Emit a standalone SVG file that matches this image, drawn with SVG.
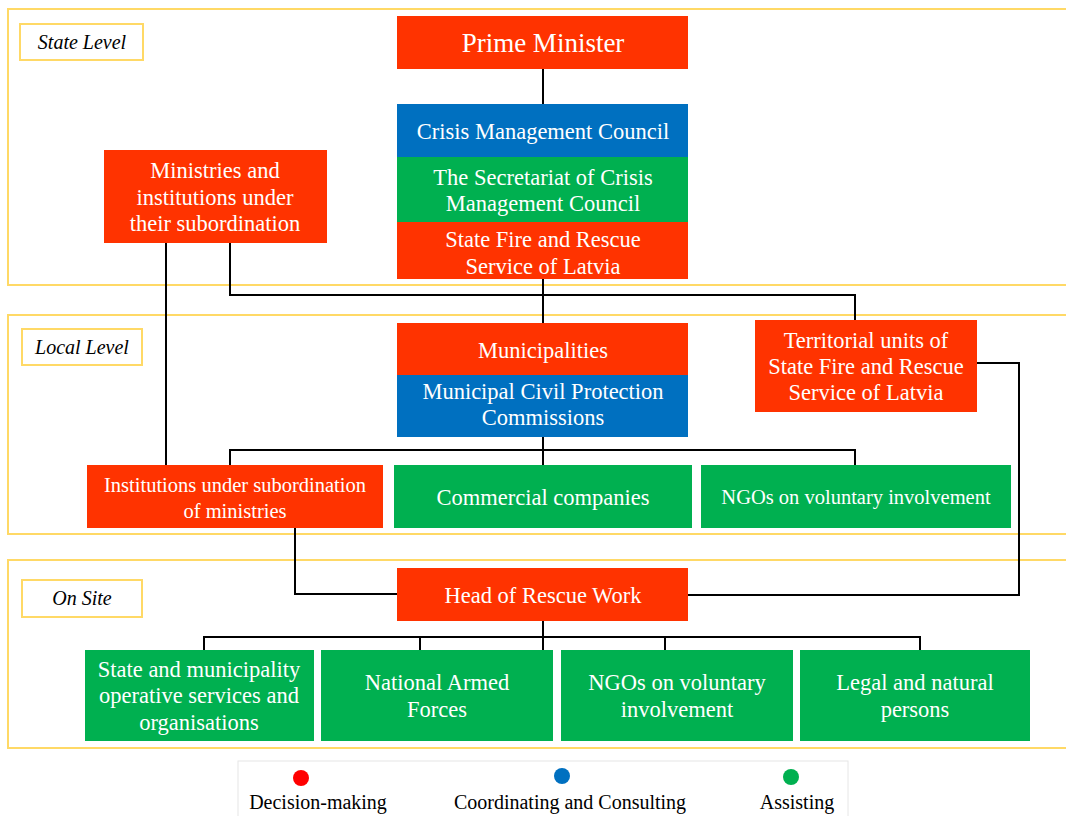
<svg xmlns="http://www.w3.org/2000/svg" width="1066" height="816" viewBox="0 0 1066 816">
<style>
.frame{fill:none;stroke:#FFD966;stroke-width:2}
.lbl{fill:#fff;stroke:#FFD966;stroke-width:2}
.lt{font-style:italic;font-size:20px;fill:#000;text-anchor:middle}
.r{fill:#FF3300}
.b{fill:#0070C0}
.g{fill:#00B050}
.t{font-size:22.5px;fill:#fff;text-anchor:middle}
.s{font-size:20.5px}
.pm{font-size:27px}
.c{fill:none;stroke:#000;stroke-width:2}
.leg{font-size:20px;fill:#000;text-anchor:middle}
</style>
<rect width="1066" height="816" fill="#fff"/>
<g font-family="Liberation Serif, Times New Roman, serif">
<g id="levels">
<rect class="frame" x="8" y="9" width="1070" height="276"/>
<rect class="lbl" x="20" y="24" width="123" height="36"/>
<text class="lt" x="82" y="49">State Level</text>
<rect class="frame" x="8" y="315" width="1070" height="219"/>
<rect class="lbl" x="22" y="329" width="120" height="36"/>
<text class="lt" x="82" y="354">Local Level</text>
<rect class="frame" x="8" y="560" width="1070" height="188"/>
<rect class="lbl" x="22" y="580" width="120" height="37"/>
<text class="lt" x="82" y="605">On Site</text>
</g>
<g id="connectors">
<path class="c" d="M543 69V104"/>
<path class="c" d="M543 279V323"/>
<path class="c" d="M166 243V465"/>
<path class="c" d="M230 243V295H855V321"/>
<path class="c" d="M977 363H1019V595H688"/>
<path class="c" d="M543 437V465"/>
<path class="c" d="M230 465V450H855V465"/>
<path class="c" d="M295 528V594H397"/>
<path class="c" d="M543 621V650"/>
<path class="c" d="M204 650V637H920V650"/>
<path class="c" d="M420 637V650"/>
<path class="c" d="M665 637V650"/>
</g>
<g id="prime-minister">
<rect class="r" x="397" y="16" width="291" height="53"/>
<text class="t pm" x="543" y="52">Prime Minister</text>
</g>
<g id="crisis-management-council">
<rect class="b" x="397" y="104" width="291" height="53"/>
<text class="t" x="543" y="139">Crisis Management Council</text>
</g>
<g id="secretariat">
<rect class="g" x="397" y="157" width="291" height="65"/>
<text class="t" x="543" y="185">The Secretariat of Crisis</text>
<text class="t" x="543" y="211">Management Council</text>
</g>
<g id="state-fire-rescue">
<rect class="r" x="397" y="222" width="291" height="57"/>
<text class="t" x="543" y="247">State Fire and Rescue</text>
<text class="t" x="543" y="274">Service of Latvia</text>
</g>
<g id="ministries">
<rect class="r" x="104" y="150" width="223" height="93"/>
<text class="t" x="215" y="178">Ministries and</text>
<text class="t" x="215" y="205">institutions under</text>
<text class="t" x="215" y="231">their subordination</text>
</g>
<g id="municipalities">
<rect class="r" x="397" y="323" width="291" height="52"/>
<text class="t" x="543" y="358">Municipalities</text>
</g>
<g id="municipal-commissions">
<rect class="b" x="397" y="375" width="291" height="62"/>
<text class="t" x="543" y="399">Municipal Civil Protection</text>
<text class="t" x="543" y="425">Commissions</text>
</g>
<g id="territorial-units">
<rect class="r" x="755" y="320" width="222" height="92"/>
<text class="t" x="866" y="348">Territorial units of</text>
<text class="t" x="866" y="374">State Fire and Rescue</text>
<text class="t" x="866" y="400">Service of Latvia</text>
</g>
<g id="institutions">
<rect class="r" x="87" y="465" width="296" height="63"/>
<text class="t s" x="235" y="492">Institutions under subordination</text>
<text class="t s" x="235" y="518">of ministries</text>
</g>
<g id="commercial">
<rect class="g" x="394" y="465" width="298" height="63"/>
<text class="t" x="543" y="505">Commercial companies</text>
</g>
<g id="ngos-local">
<rect class="g" x="701" y="465" width="310" height="63"/>
<text class="t s" x="856" y="504">NGOs on voluntary involvement</text>
</g>
<g id="head-rescue">
<rect class="r" x="397" y="568" width="291" height="53"/>
<text class="t" x="543" y="603">Head of Rescue Work</text>
</g>
<g id="state-municipality-services">
<rect class="g" x="85" y="650" width="229" height="91"/>
<text class="t" x="199" y="677">State and municipality</text>
<text class="t" x="199" y="703">operative services and</text>
<text class="t" x="199" y="730">organisations</text>
</g>
<g id="armed-forces">
<rect class="g" x="321" y="650" width="232" height="91"/>
<text class="t" x="437" y="690">National Armed</text>
<text class="t" x="437" y="717">Forces</text>
</g>
<g id="ngos-site">
<rect class="g" x="561" y="650" width="232" height="91"/>
<text class="t" x="677" y="690">NGOs on voluntary</text>
<text class="t" x="677" y="717">involvement</text>
</g>
<g id="legal-persons">
<rect class="g" x="800" y="650" width="230" height="91"/>
<text class="t" x="915" y="690">Legal and natural</text>
<text class="t" x="915" y="717">persons</text>
</g>
<g id="legend">
<rect x="238" y="761" width="610" height="60" fill="#fff" stroke="#E6E6E6" stroke-width="1"/>
<circle cx="301" cy="778" r="8" fill="#FF0000"/>
<circle cx="562" cy="776" r="8" fill="#0070C0"/>
<circle cx="791" cy="777" r="8" fill="#00B050"/>
<text class="leg" x="318" y="809">Decision-making</text>
<text class="leg" x="570" y="809">Coordinating and Consulting</text>
<text class="leg" x="797" y="809">Assisting</text>
</g>
</g>
</svg>
